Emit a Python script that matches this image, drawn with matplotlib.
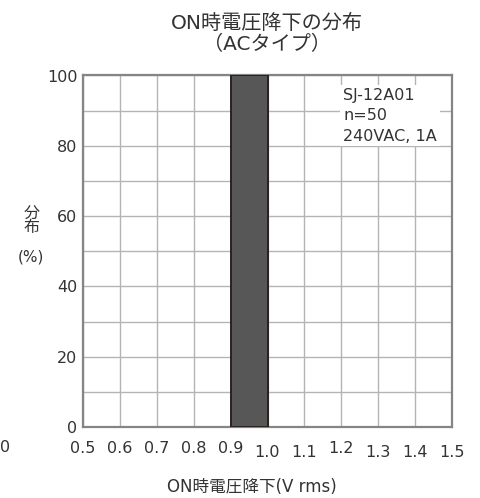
import matplotlib
matplotlib.use("Agg")
import matplotlib.pyplot as plt
import matplotlib.transforms as mtrans
import numpy as np

plt.rcParams['font.family'] = ['DejaVu Sans', 'Noto Sans CJK JP']

# Data
bin_edges = [0.5, 0.6, 0.7, 0.8, 0.9, 1.0, 1.1, 1.2, 1.3, 1.4, 1.5]
percent = [0, 0, 0, 0, 100, 0, 0, 0, 0, 0]
x_tick_labels = ["0.5", "0.6", "0.7", "0.8", "0.9", "1.0", "1.1", "1.2", "1.3", "1.4", "1.5"]
y_ticks = [0, 20, 40, 60, 80, 100]
title = "ON時電圧降下の分布\n（ACタイプ）"
xlabel = "ON時電圧降下(V rms)"
note = "SJ-12A01\nn=50\n240VAC, 1A"

txt = '#333333'
fig = plt.figure(figsize=(4.81, 4.98), dpi=100)
ax = fig.add_axes([83/481, 1-427/498, (452-83)/481, (427-75.5)/498])

lefts = bin_edges[:-1]
widths = np.diff(bin_edges)
for l, w, p in zip(lefts, widths, percent):
    if p > 0:
        ax.bar(l, p, width=w, align='edge', color='#575757', edgecolor='#2a2020', linewidth=1.4, zorder=3)

ax.set_xlim(0.5, 1.5)
ax.set_ylim(0, 100)
ax.set_xticks(bin_edges)
ax.set_xticklabels(x_tick_labels, fontsize=11.5, color=txt)
ax.set_yticks(y_ticks)
ax.set_yticklabels([str(v) for v in y_ticks], fontsize=11.5, color=txt)
ax.set_yticks(np.arange(0, 101, 10), minor=True)
ax.tick_params(axis='both', which='both', length=0)
ax.tick_params(axis='x', pad=10)
ax.tick_params(axis='y', pad=4)
ax.grid(True, which='both', color='#b4b4b4', linewidth=1.0, zorder=0)
ax.set_axisbelow(True)
for s in ax.spines.values():
    s.set_color('#858585')
    s.set_linewidth(1.6)

# slight irregular label offsets as in the reference
offsets = [0, 0, 0, 0, 0, -4, -4, 0, -4, -4, -4]
for lab, off in zip(ax.get_xticklabels(), offsets):
    lab.set_transform(lab.get_transform() + mtrans.ScaledTranslation(0, off/100, fig.dpi_scale_trans))

ax.text(0.705, 0.965, note, transform=ax.transAxes, ha='left', va='top', fontsize=11.5,
        color=txt, linespacing=1.45, zorder=5,
        bbox=dict(facecolor='white', edgecolor='none', pad=2))

fig.text(267/481, 1-34/498, title, ha='center', va='center', fontsize=14.5, color=txt, linespacing=1.15)
fig.text(252/481, 1-487/498, xlabel, ha='center', va='center', fontsize=12, color=txt)
fig.text(32/481, 1-221/498, "分\n布", ha='center', va='center', fontsize=11.5, color=txt, linespacing=0.9)
fig.text(31/481, 1-257/498, "(%)", ha='center', va='center', fontsize=11, color=txt)
fig.text(0/481, 1-447/498, "0", ha='left', va='center', fontsize=11.5, color=txt)

fig.savefig("out.png", dpi=100)
